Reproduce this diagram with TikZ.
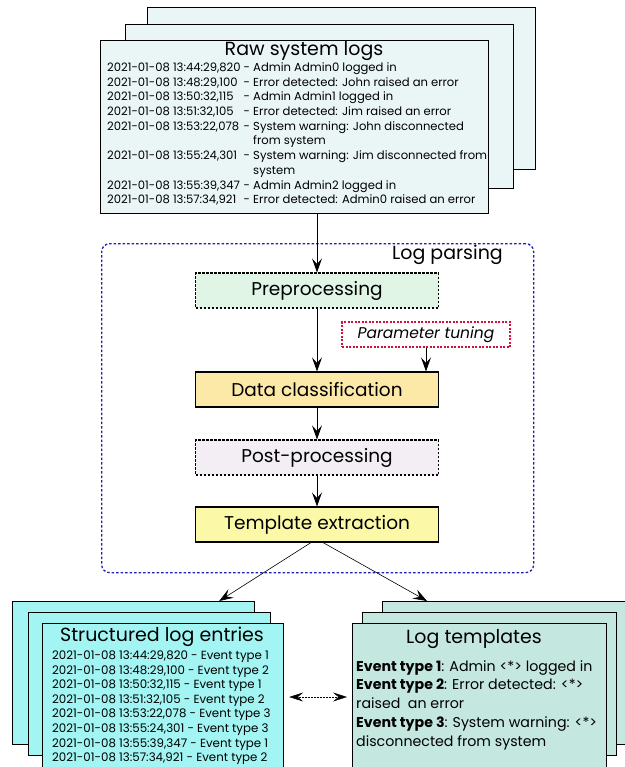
\documentclass[tikz,border=0pt]{standalone}
\usepackage{fontspec}
\setmainfont{Poppins}
\usetikzlibrary{arrows.meta, positioning, calc}

\definecolor{rawfill}{HTML}{EAF6F6}
\definecolor{strfill}{HTML}{A3F5F4}
\definecolor{tplfill}{HTML}{C4E8E0}
\definecolor{prefill}{HTML}{E0F5E6}
\definecolor{clsfill}{HTML}{FCE9A8}
\definecolor{postfill}{HTML}{F2EEF4}
\definecolor{extfill}{HTML}{FBF9A8}
\definecolor{parseblue}{HTML}{1F1FB0}
\definecolor{tunered}{HTML}{D0103A}

\tikzset{
  sheet/.style={draw, line width=1.2pt, anchor=north west, inner sep=0pt},
  stage/.style={draw, line width=1.1pt, minimum width=243pt, minimum height=35pt,
    inner sep=0pt, font=\fontsize{18.5}{20}\selectfont},
  optstage/.style={stage, dashed, dash pattern=on 2.5pt off 1.5pt},
  title/.style={inner sep=0pt, font=\fontsize{19}{20}\selectfont},
  tip/.style={Stealth[length=14pt, width=10pt, inset=5.5pt]},
  flow/.style={-{Stealth[length=14pt, width=10pt, inset=5.5pt]}, line width=0.8pt}
}

\begin{document}
\begin{tikzpicture}[x=1pt, y=-1pt]
\useasboundingbox (0,0) rectangle (624,767);

% raw logs stack
\foreach \x/\y/\h/\n in {147/7/162/rawC, 125/24/164/rawB} {
    \node[sheet, fill=rawfill, minimum width=388pt, minimum height=\h pt] (\n) at (\x,\y) {};
}
\node[sheet, fill=rawfill, minimum width=388pt, minimum height=173pt] (rawA) at (100,40) {};
\node[title] (rawtitle) at (304,51) {Raw system logs};
\node[anchor=north west, inner sep=0pt, font=\fontsize{11.6}{14.7}\selectfont] (rawtext) at (107,61) {%
  \begin{tabular}{@{}l@{\ -\ }l@{}}
  2021-01-08 13:44:29,820 & Admin Admin0 logged in\\
  2021-01-08 13:48:29,100 & Error detected: John raised an error\\
  2021-01-08 13:50:32,115 & Admin Admin1 logged in\\
  2021-01-08 13:51:32,105 & Error detected: Jim raised an error\\
  2021-01-08 13:53:22,078 & System warning: John disconnected\\
  \multicolumn{1}{@{}l@{\phantom{\ -\ }}}{} & from system\\
  2021-01-08 13:55:24,301 & System warning: Jim disconnected from\\
  \multicolumn{1}{@{}l@{\phantom{\ -\ }}}{} & system\\
  2021-01-08 13:55:39,347 & Admin Admin2 logged in\\
  2021-01-08 13:57:34,921 & Error detected: Admin0 raised an error
  \end{tabular}};

% log parsing block
\node[draw=parseblue, line width=1.3pt, dash pattern=on 2.5pt off 2pt, rounded corners=8pt,
  minimum width=432pt, minimum height=329pt, anchor=north west] (parsing) at (101,243) {};
\node[title, anchor=north east] (parsetitle) at (503,245) {Log parsing};

\node[optstage, fill=prefill] (pre) at (317,290.5) {Preprocessing};
\node[draw=tunered, line width=1.1pt, dash pattern=on 2pt off 1.5pt, minimum width=168pt, minimum height=25pt,
  inner sep=0pt, font=\fontsize{15.5}{16}\selectfont\itshape] (tune) at (426,334.5) {Parameter tuning};
\node[stage, fill=clsfill] (cls) at (317,389.5) {Data classification};
\node[optstage, fill=postfill] (post) at (317,457.5) {Post-processing};
\node[stage, fill=extfill] (ext) at (317,524.5) {Template extraction};

\draw[flow] (pre.north |- rawA.south) -- (pre.north);
\draw[flow] (pre) -- (cls);
\draw[flow] (tune.south) -- (tune.south |- cls.north);
\draw[flow] (cls) -- (post);
\draw[flow] (post) -- (ext);

% structured log entries stack
\foreach \x/\y/\h/\n in {12/601/143/strC, 28/612/143/strB} {
    \node[sheet, fill=strfill, minimum width=242pt, minimum height=\h pt] (\n) at (\x,\y) {};
}
\node[sheet, fill=strfill, minimum width=241pt, minimum height=170pt] (strA) at (42,623) {};
\node[title] (strtitle) at (162,637) {Structured log entries};
\node[anchor=north west, inner sep=0pt, font=\fontsize{11.8}{14.6}\selectfont] (strtext) at (52,649) {%
  \begin{tabular}{@{}l@{}}
  2021-01-08 13:44:29,820 - Event type 1\\
  2021-01-08 13:48:29,100 - Event type 2\\
  2021-01-08 13:50:32,115 - Event type 1\\
  2021-01-08 13:51:32,105 - Event type 2\\
  2021-01-08 13:53:22,078 - Event type 3\\
  2021-01-08 13:55:24,301 - Event type 3\\
  2021-01-08 13:55:39,347 - Event type 1\\
  2021-01-08 13:57:34,921 - Event type 2
  \end{tabular}};

% log templates stack
\foreach \x/\y/\h/\n in {382/601/143/tplC, 362/612/143/tplB} {
    \node[sheet, fill=tplfill, minimum width=254pt, minimum height=\h pt] (\n) at (\x,\y) {};
}
\node[sheet, fill=tplfill, minimum width=254pt, minimum height=170pt] (tplA) at (352,623) {};
\node[title] (tpltitle) at (474,639) {Log templates};
\node[anchor=north west, inner sep=0pt, font=\fontsize{14.2}{18.7}\selectfont] (tpltext) at (356,658) {%
  \begin{tabular}{@{}l@{}}
  \textbf{Event type 1}: Admin <*> logged in\\
  \textbf{Event type 2}: Error detected: <*>\\
  raised\ \ an error\\
  \textbf{Event type 3}: System warning: <*>\\
  disconnected from system
  \end{tabular}};

\draw[-{Stealth[length=14pt, width=10pt, inset=5.5pt]}, line width=0.6pt] ($(ext.south)+(-6,0)$) -- ($(strC.north east)+(-36,0)$);
\draw[-{Stealth[length=14pt, width=10pt, inset=5.5pt]}, line width=0.6pt] ($(ext.south)+(6,0)$) -- ($(tplC.north west)+(45,0)$);
\draw[{Stealth[length=14pt, width=9pt, inset=5.5pt]}-{Stealth[length=14pt, width=9pt, inset=5.5pt]}, line width=0.5pt, densely dotted]
  ($(strA.north east)+(5,74)$) -- ($(tplA.north west)+(-5,74)$);
\end{tikzpicture}
\end{document}
